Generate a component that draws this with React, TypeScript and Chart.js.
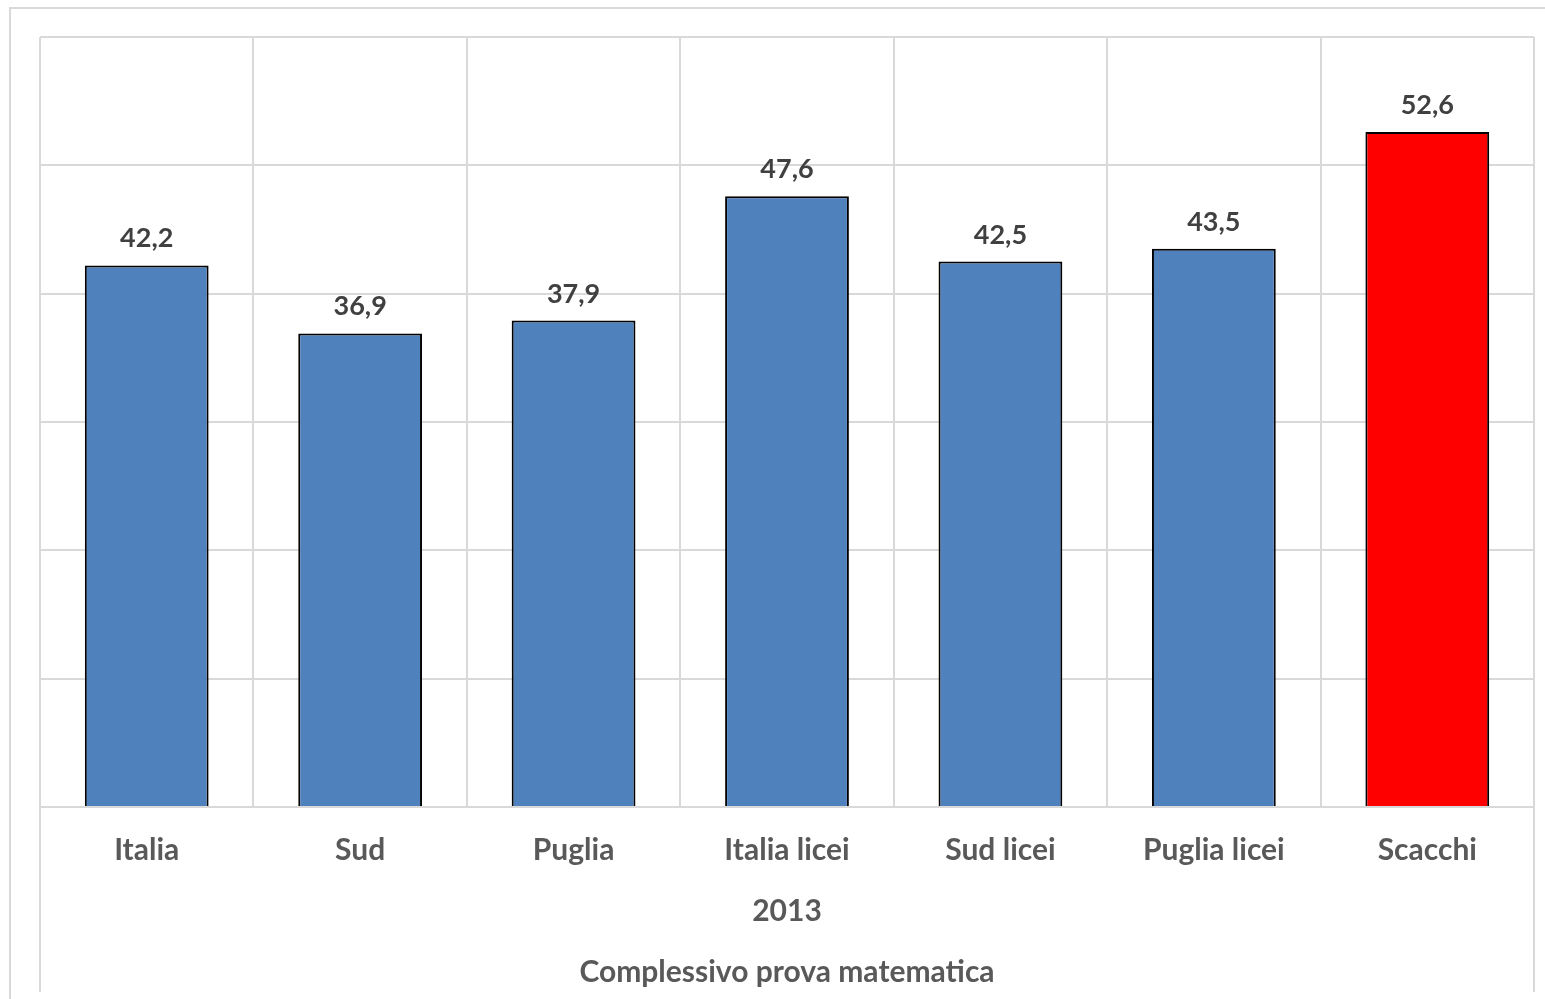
import React, { useEffect, useRef } from "react";
import { Chart, registerables } from "chart.js";

Chart.register(...registerables);

const categories = ["Italia", "Sud", "Puglia", "Italia licei", "Sud licei", "Puglia licei", "Scacchi"];
const values = [42.2, 36.9, 37.9, 47.6, 42.5, 43.5, 52.6];
const barColors = ["#4f81bd", "#4f81bd", "#4f81bd", "#4f81bd", "#4f81bd", "#4f81bd", "#ff0000"];
const groupLabel = "2013";
const mainLabel = "Complessivo prova matematica";
const yTicks = { min: 0, max: 60, step: 10 };

const FONT = "Lato";
const GRID = "#d9d9d9";
const AXIS_FONT = { family: FONT, size: 30, weight: "bold" as const };

const extrasPlugin = {
  id: "extras",
  beforeDraw(chart: any) {
    const { ctx, chartArea } = chart;
    ctx.save();
    ctx.strokeStyle = GRID;
    ctx.lineWidth = 2;
    ctx.beginPath();
    ctx.moveTo(10, 999);
    ctx.lineTo(10, 8);
    ctx.lineTo(1545, 8);
    ctx.stroke();
    ctx.beginPath();
    ctx.moveTo(chartArea.left, chartArea.bottom);
    ctx.lineTo(chartArea.left, 992);
    ctx.moveTo(chartArea.right, chartArea.bottom);
    ctx.lineTo(chartArea.right, 992);
    ctx.stroke();
    ctx.restore();
  },
  afterDatasetsDraw(chart: any) {
    const { ctx } = chart;
    const meta = chart.getDatasetMeta(0);
    ctx.save();
    ctx.font = `bold 27px ${FONT}`;
    ctx.fillStyle = "#404040";
    ctx.textAlign = "center";
    ctx.textBaseline = "alphabetic";
    meta.data.forEach((bar: any, i: number) => {
      const txt = values[i].toFixed(1).replace(".", ",");
      ctx.fillText(txt, bar.x, bar.y - 18);
    });
    ctx.restore();
  },
};

export default function App() {
  const ref = useRef<HTMLCanvasElement>(null);
  useEffect(() => {
    if (!ref.current) return;
    const chart = new Chart(ref.current, {
      type: "bar",
      data: {
        labels: categories,
        datasets: [
          {
            data: values,
            backgroundColor: barColors,
            borderColor: "#000000",
            borderWidth: 2,
            barPercentage: 0.58,
            categoryPercentage: 1,
          },
        ],
      },
      options: {
        responsive: false,
        animation: false,
        devicePixelRatio: 1,
        layout: { padding: { left: 40, right: 11, top: 37, bottom: 0 } },
        plugins: {
          legend: { display: false },
          tooltip: { enabled: false },
          title: {
            display: true,
            position: "bottom",
            text: mainLabel,
            color: "#595959",
            font: AXIS_FONT,
            padding: { top: 10, bottom: 9 },
          },
        },
        scales: {
          x: {
            grid: { color: GRID, lineWidth: 2, drawTicks: false, offset: true },
            border: { color: GRID, width: 2 },
            ticks: {
              color: "#595959",
              font: AXIS_FONT,
              padding: 25,
              maxRotation: 0,
            },
            title: {
              display: true,
              text: groupLabel,
              color: "#595959",
              font: AXIS_FONT,
              padding: { top: 0, bottom: 15 },
            },
            afterFit(scale: any) {
              scale.height = 137;
            },
          },
          y: {
            min: yTicks.min,
            max: yTicks.max,
            ticks: { display: false, stepSize: yTicks.step },
            grid: { color: GRID, lineWidth: 2, drawTicks: false },
            border: { display: false },
            afterFit(scale: any) {
              scale.width = 0;
            },
          },
        },
      },
      plugins: [extrasPlugin],
    });
    return () => chart.destroy();
  }, []);
  return (
    <div style={{ position: "absolute", left: 0, top: 0, width: 1545, height: 999, background: "#fff" }}>
      <canvas ref={ref} width={1545} height={999} style={{ display: "block" }} />
    </div>
  );
}
